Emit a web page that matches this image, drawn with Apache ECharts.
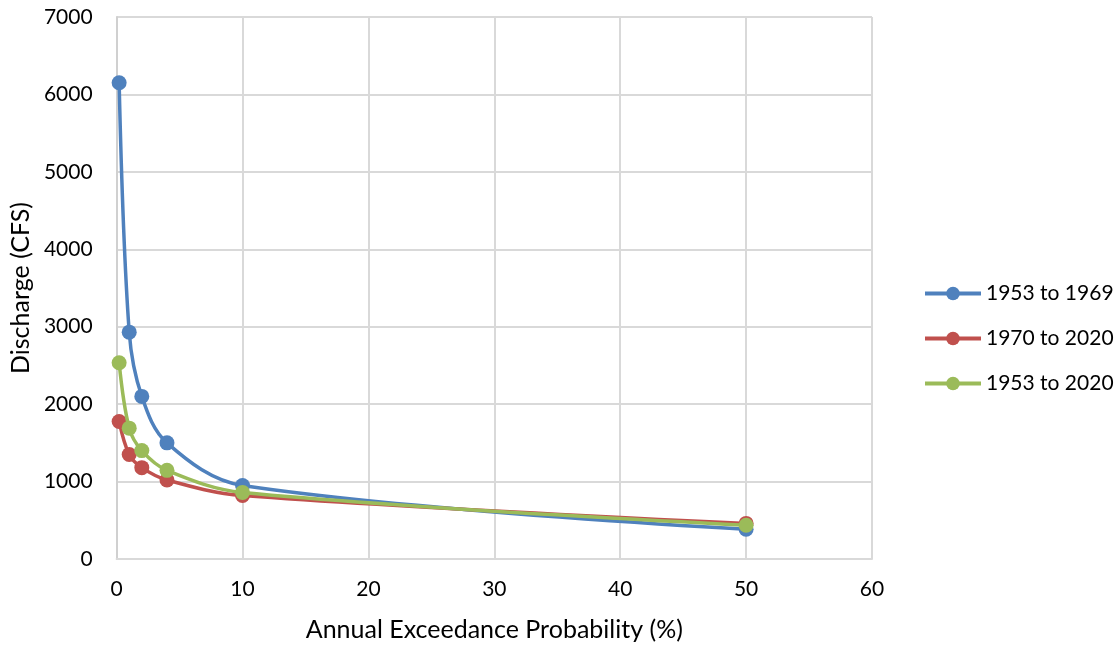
<!DOCTYPE html>
<html>
<head>
<meta charset="utf-8">
<script src="https://cdn.jsdelivr.net/npm/echarts@6/dist/echarts.min.js"></script>
<style>
  html, body { margin: 0; padding: 0; background: #fff; }
  #chart { width: 1116px; height: 647px; }
</style>
</head>
<body>
<div id="chart"></div>
<script>
// Annual exceedance probability (%) for each estimate
const probabilities = [0.2, 1, 2, 4, 10, 50];

// Peak discharge (CFS) per record period
const seriesNames = ['1953 to 1969', '1970 to 2020', '1953 to 2020'];
const discharge1953to1969 = [6150, 2930, 2100, 1500, 950, 385];
const discharge1970to2020 = [1775, 1350, 1180, 1020, 820, 460];
const discharge1953to2020 = [2535, 1690, 1400, 1145, 860, 435];

const colors = ['#4f81bd', '#c0504d', '#9bbb59'];
const fontFamily = 'Lato, "Open Sans", "Liberation Sans", sans-serif';

function pairs(values) {
  return probabilities.map((p, i) => [p, values[i]]);
}

const allValues = [discharge1953to1969, discharge1970to2020, discharge1953to2020];

const chart = echarts.init(document.getElementById('chart'), null, { renderer: 'canvas' });

chart.setOption({
  backgroundColor: '#ffffff',
  animation: false,
  textStyle: { fontFamily: fontFamily },
  grid: { left: 116, right: 244, top: 17, bottom: 84, containLabel: false },
  legend: {
    orient: 'vertical',
    left: 918,
    top: 278,
    itemWidth: 56,
    itemHeight: 17,
    itemGap: 24,
    textStyle: { fontSize: 21, lineHeight: 21, color: '#000', fontFamily: fontFamily },
    lineStyle: { width: 4 },
    data: seriesNames
  },
  xAxis: {
    type: 'value',
    min: 0,
    max: 60,
    interval: 10,
    name: 'Annual Exceedance Probability (%)',
    nameLocation: 'middle',
    nameGap: 58,
    nameTextStyle: { fontSize: 25, color: '#000', fontFamily: fontFamily },
    axisLine: { show: true, lineStyle: { color: '#d9d9d9', width: 2 } },
    axisTick: { show: false },
    axisLabel: { fontSize: 21, color: '#000', margin: 20, fontFamily: fontFamily },
    splitLine: { show: true, lineStyle: { color: '#d9d9d9', width: 2 } }
  },
  yAxis: {
    type: 'value',
    min: 0,
    max: 7000,
    interval: 1000,
    name: 'Discharge (CFS)',
    nameLocation: 'middle',
    nameGap: 81,
    nameRotate: 90,
    nameTextStyle: { fontSize: 25, color: '#000', fontFamily: fontFamily },
    axisLine: { show: true, lineStyle: { color: '#d0d0d0', width: 2 } },
    axisTick: { show: false },
    axisLabel: {
      fontSize: 21,
      color: '#000',
      margin: 24,
      fontFamily: fontFamily,
      formatter: (v) => String(v)
    },
    splitLine: { show: true, lineStyle: { color: '#d9d9d9', width: 2 } }
  },
  series: seriesNames.map((name, i) => ({
    name: name,
    type: 'line',
    data: pairs(allValues[i]),
    smooth: 0.35,
    symbol: 'circle',
    symbolSize: 15,
    showSymbol: true,
    lineStyle: { color: colors[i], width: 3.5 },
    itemStyle: { color: colors[i], borderWidth: 0 },
    z: 2 + i
  }))
});
</script>
</body>
</html>
